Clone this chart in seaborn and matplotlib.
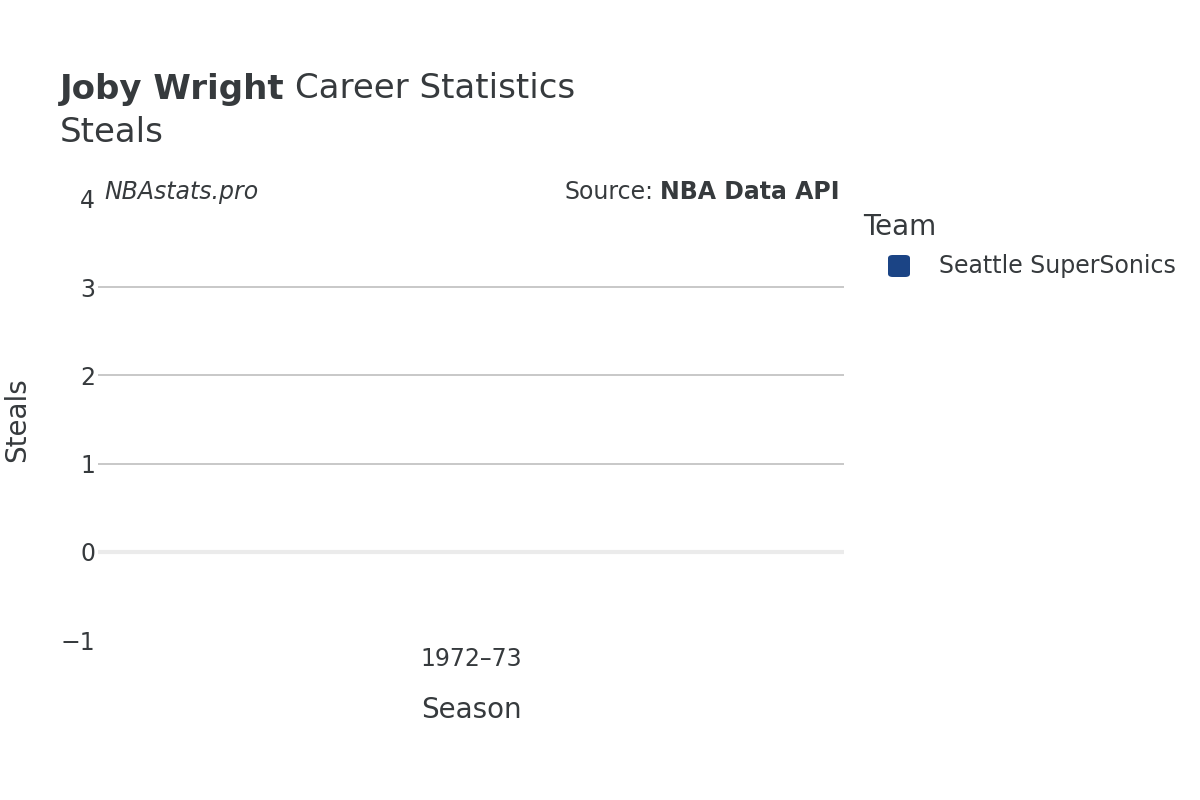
import numpy as np
import pandas as pd
import seaborn as sns
import matplotlib.pyplot as plt
from matplotlib.patches import FancyBboxPatch

# data: one season, no steals recorded
seasons = ["1972\u201373"]
teams = ["Seattle SuperSonics"]
steals = [np.nan]
team_colors = {"Seattle SuperSonics": "#1b4485"}

df = pd.DataFrame({"Season": seasons, "Team": teams, "Steals": steals})

sns.set_theme(style="white")
plt.rcParams['font.family'] = ['DejaVu Sans']
text_color = "#363a3d"

fig = plt.figure(figsize=(12, 8), dpi=100)
ax = fig.add_axes([98 / 1200, 1 - 640 / 800, (844 - 98) / 1200, (640 - 199) / 800])

sns.barplot(data=df, x="Season", y="Steals", hue="Team", palette=team_colors,
            ax=ax, legend=False)

ax.set_ylim(-1, 4)
ax.set_yticks([-1, 0, 1, 2, 3, 4])
ax.set_yticklabels(["\u22121", "0", "1", "2", "3", "4"])
for y in [1, 2, 3]:
    ax.axhline(y, color="#c4c4c4", lw=1.3, zorder=0)
ax.axhline(0, color="#ebebeb", lw=3, zorder=0)
for s in ax.spines.values():
    s.set_visible(False)
ax.tick_params(axis="both", length=0, labelsize=17, colors=text_color, pad=2)
ax.tick_params(axis="x", pad=5)
ax.set_xlabel("Season", fontsize=20, color=text_color, labelpad=18)
ax.set_ylabel("")
fig.text(17 / 1200, 1 - 420 / 800, "Steals", rotation=90, fontsize=20,
         color=text_color, ha="center", va="center")

# title
r = fig.canvas.get_renderer()
t1 = fig.text(60 / 1200, 1 - 89 / 800, "Joby Wright", fontsize=24.5, fontweight="bold",
              color=text_color, va="center")
bb = t1.get_window_extent(renderer=r)
fig.text(bb.x1 / 1200 + 0.009, 1 - 89 / 800, "Career Statistics", fontsize=24.5,
         color=text_color, va="center")
fig.text(60 / 1200, 1 - 133 / 800, "Steals", fontsize=24.5, color=text_color, va="center")

# watermark and source
fig.text(104 / 1200, 1 - 192 / 800, "NBAstats.pro", fontsize=17, style="italic",
         color=text_color, va="center")
t2 = fig.text(840 / 1200, 1 - 192 / 800, "NBA Data API", fontsize=17, fontweight="bold",
              color=text_color, va="center", ha="right")
bb2 = t2.get_window_extent(renderer=r)
fig.text(bb2.x0 / 1200 - 0.006, 1 - 192 / 800, "Source:", fontsize=17,
         color=text_color, va="center", ha="right")

# legend
fig.text(863 / 1200, 1 - 227 / 800, "Team", fontsize=20, color=text_color, va="center")
for i, team in enumerate(teams):
    yc = 1 - (266 + 30 * i) / 800
    fig.patches.append(FancyBboxPatch((888 / 1200, yc - 11 / 800), 22 / 1200, 22 / 800,
                                      boxstyle="round,pad=0,rounding_size=0.004",
                                      transform=fig.transFigure,
                                      facecolor=team_colors[team], edgecolor="none"))
    fig.text(939 / 1200, yc, team, fontsize=17, color=text_color, va="center")

plt.savefig("out.png", dpi=100)
